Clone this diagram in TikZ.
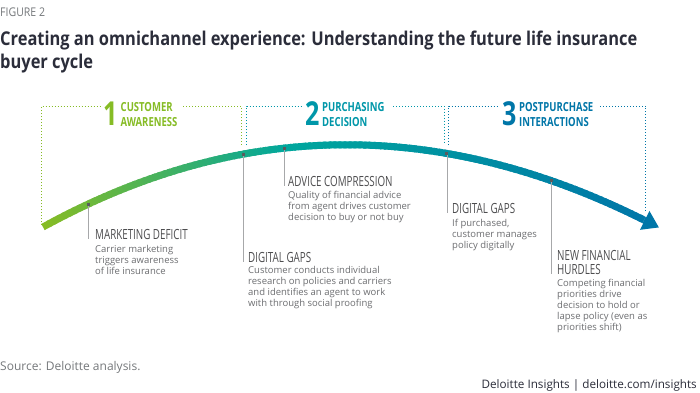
\documentclass[tikz,border=0pt]{standalone}
\usepackage{fontspec}
\setmainfont{Open Sans}
\newfontfamily\condfont[FakeStretch=0.7]{Open Sans}
\newfontfamily\titlefont[FakeStretch=0.865]{Open Sans}
\newfontfamily\phfont[FakeStretch=0.76]{Open Sans}
\newfontfamily\figfont[FakeStretch=0.88]{Open Sans}
\usetikzlibrary{arrows.meta}
\definecolor{cgreen}{HTML}{86BC25}
\definecolor{cteal}{HTML}{00A79D}
\definecolor{ctealtxt}{HTML}{0097A9}
\definecolor{cblue}{HTML}{0076A8}
\definecolor{headgray}{HTML}{4D4D4F}
\definecolor{bodygray}{HTML}{6D6E71}
\definecolor{figgray}{HTML}{75787B}
\definecolor{titlecol}{HTML}{2B2D3A}
\definecolor{tickgray}{HTML}{A7A8AA}
\definecolor{dotgray}{HTML}{5A5B5E}
\begin{document}
\begin{tikzpicture}[x=1pt,y=-1pt,
  hd/.style={anchor=base west, inner sep=0, align=left, font=\condfont\fontsize{14}{14}\selectfont, text=headgray},
  bd/.style={anchor=base west, inner sep=0, align=left, font=\fontsize{9.5}{11}\selectfont, text=bodygray},
  ph/.style={anchor=base west, inner sep=0, align=left, font=\phfont\bfseries\fontsize{12.5}{15}\selectfont},
  num/.style={anchor=base west, inner sep=0, font=\phfont\bfseries\fontsize{33}{33}\selectfont},
  dotl/.style={line width=1pt, dash pattern=on 1pt off 2pt},
  tick/.style={draw=tickgray, line width=0.7pt},
  mdot/.style={rectangle, fill=dotgray, inner sep=0, minimum size=3pt}
]
\fill[white] (0,0) rectangle (700,392);
\path[use as bounding box] (0,0) rectangle (700,392);

% title block (base anchor = last line's baseline)
\node[anchor=base west, inner sep=0, font=\figfont\fontsize{12}{12}\selectfont, text=figgray] (fig) at (0,16) {FIGURE 2};
\node[anchor=base west, inner sep=0, align=left, font=\titlefont\bfseries\fontsize{19}{23}\selectfont, text=titlecol] (title) at (0,68)
  {Creating an omnichannel experience: Understanding the future life insurance\\buyer cycle};

% phase headers
\node[num, text=cgreen] (n1) at (103,125) {1};
\node[ph, text=cgreen] (p1) at (120.5,126) {CUSTOMER\\AWARENESS};
\node[num, text=ctealtxt] (n2) at (305,125) {2};
\node[ph, text=ctealtxt] (p2) at (322,126) {PURCHASING\\DECISION};
\node[num, text=cblue] (n3) at (502,125) {3};
\node[ph, text=cblue] (p3) at (519,126) {POSTPURCHASE\\INTERACTIONS};

% dotted brackets
\coordinate (g1) at (41.7,225);
\coordinate (g2) at (241,146);
\coordinate (t1) at (246.7,145);
\coordinate (t2) at (444.5,143);
\coordinate (u1) at (448.5,145);
\coordinate (u2) at (645.7,212);
\draw[dotl, cgreen] (g1) -- (41.7,106) -- (100,106);
\draw[dotl, cgreen] (183,106) -- (241,106) -- (g2);
\draw[dotl, ctealtxt] (t1) -- (246.7,106) -- (302,106);
\draw[dotl, ctealtxt] (393,106) -- (444.5,106) -- (t2);
\draw[dotl, cblue] (u1) -- (448.5,106) -- (499,106);
\draw[dotl, cblue] (600,106) -- (645.7,106) -- (u2);

% curve with gradient
\coordinate (cs) at (43,227);
\coordinate (c1) at (243,117);
\coordinate (c2) at (444,120);
\coordinate (ce) at (644,220);
\coordinate (tip) at (659,227.5);
\foreach \i in {0,...,119}{
  \pgfmathsetmacro\ta{\i/120}
  \pgfmathsetmacro\tb{min(1,(\i+1.6)/120)}
  \ifdim\ta pt<0.4pt
    \pgfmathsetmacro\pc{100*\ta/0.4}
    \colorlet{segc}{cteal!\pc!cgreen}
  \else
    \pgfmathsetmacro\pc{100*(\ta-0.4)/0.6}
    \colorlet{segc}{cblue!\pc!cteal}
  \fi
  \path (cs) .. controls (c1) and (c2) .. (ce) coordinate[pos=\ta] (pa) coordinate[pos=\tb] (pb);
  \draw[line width=7pt, segc] (pa) -- (pb);
}
\draw[line width=7pt, cblue, -{Triangle[length=16pt,width=20pt]}] (ce) -- (tip);

% markers on the curve
\path (cs) .. controls (c1) and (c2) .. (ce)
  node[mdot, pos=0.075] (d1) {}
  node[mdot, pos=0.333] (d2) {}
  node[mdot, pos=0.402] (d3) {}
  node[mdot, pos=0.672] (d4) {}
  node[mdot, pos=0.846] (d5) {};

% texts (base anchor = last line's baseline)
\node[hd] (h1) at (95,239) {MARKETING DEFICIT};
\node[bd] (b1) at (95,274) {Carrier marketing\\triggers awareness\\of life insurance};
\node[hd] (h2) at (248,262) {DIGITAL GAPS};
\node[bd] (b2) at (248,306) {Customer conducts individual\\research on policies and carriers\\and identifies an agent to work\\with through social proofing};
\node[hd] (h3) at (288,186) {ADVICE COMPRESSION};
\node[bd] (b3) at (288,220) {Quality of financial advice\\from agent drives customer\\decision to buy or not buy};
\node[hd] (h4) at (452,213) {DIGITAL GAPS};
\node[bd] (b4) at (452,248) {If purchased,\\customer manages\\policy digitally};
\node[hd] (h5) at (557,274) {NEW FINANCIAL\\HURDLES};
\node[bd] (b5) at (557,330) {Competing financial\\priorities drive\\decision to hold or\\lapse policy (even as\\priorities shift)};

% ticks
\draw[tick] (d1) -- (d1 |- h1.south);
\draw[tick] (d2) -- (d2 |- h2.south);
\draw[tick] (d3) -- (d3 |- h3.south);
\draw[tick] (d4) -- (d4 |- h4.south);
\draw[tick] (d5) -- (d5 |- h5.south);
\node[mdot] at (d1) {};
\node[mdot] at (d2) {};
\node[mdot] at (d3) {};
\node[mdot] at (d4) {};
\node[mdot] at (d5) {};

% footer
\node[anchor=base west, inner sep=0, font=\fontsize{12}{12}\selectfont, text=figgray] (src) at (0,370) {Source: Deloitte analysis.};
\node[anchor=base east, inner sep=0, font=\fontsize{11.7}{12}\selectfont, text=titlecol] (brand) at (697,388) {Deloitte Insights | deloitte.com/insights};
\end{tikzpicture}
\end{document}
